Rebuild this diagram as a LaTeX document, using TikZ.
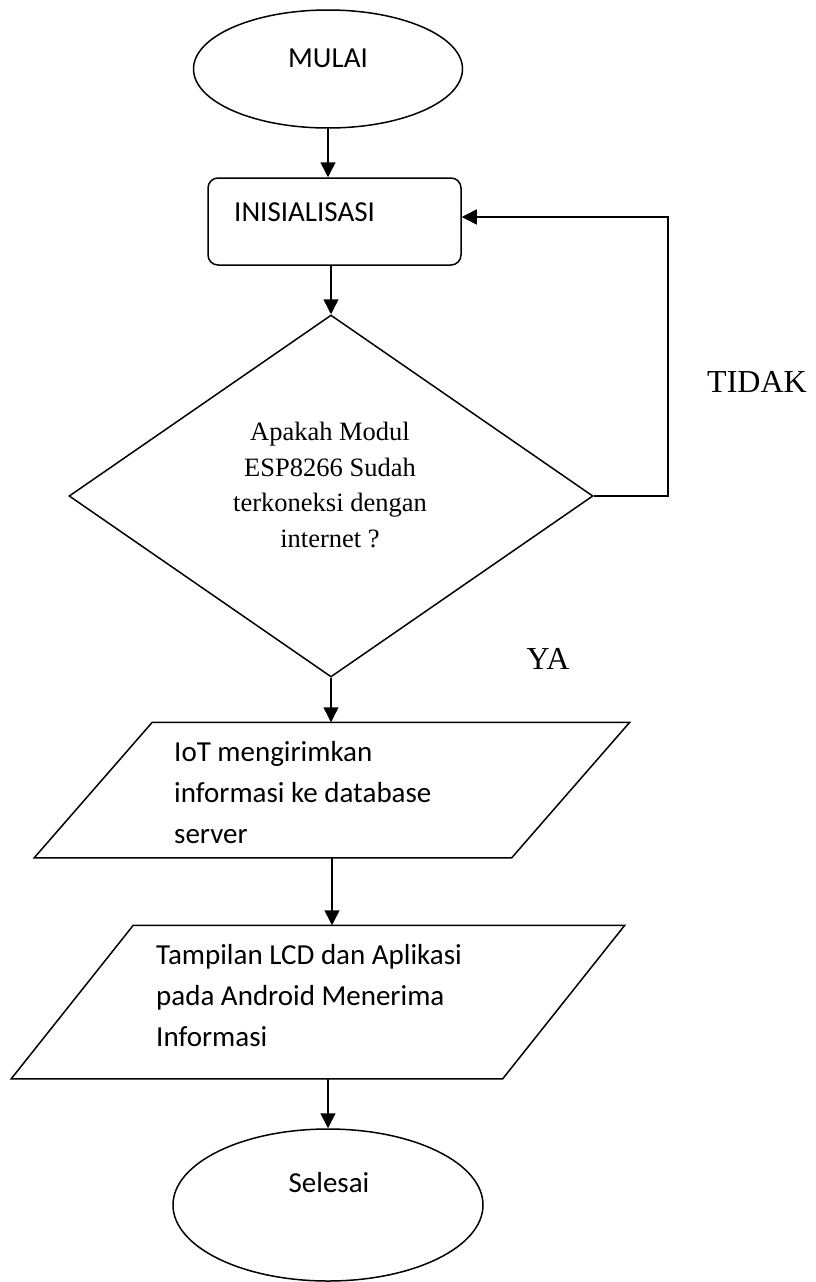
\documentclass[tikz,border=0pt]{standalone}
\usepackage{fontspec}
\newfontfamily\calibri{Carlito}
\newfontfamily\tnr{Liberation Serif}
\usetikzlibrary{arrows.meta,shapes.geometric,calc}

\begin{document}
\begin{tikzpicture}[x=1pt,y=-1pt,
    garis/.style={line width=1.5pt},
    terminal/.style={draw, garis, ellipse, inner sep=0pt},
    proses/.style={draw, garis, rectangle, rounded corners=10pt, inner sep=0pt},
    putusan/.style={draw, garis, diamond, inner sep=0pt},
    masukan/.style={rectangle, inner sep=0pt, outer sep=0.75pt},
    tulis/.style={font=\calibri\fontsize{29}{41}\selectfont, inner sep=0pt, align=left},
    tulisb/.style={font=\tnr\fontsize{26.5}{35.5}\selectfont, inner sep=0pt, align=center},
    ket/.style={font=\tnr\fontsize{32}{38}\selectfont, inner sep=0pt},
    panah/.style={garis, -{Triangle[length=15pt,width=15pt]}}]
    \useasboundingbox (0,0) rectangle (816,1282);

    \node [terminal, minimum width=269pt, minimum height=118pt] (mulai) at (328,69) {};
    \node [proses, minimum width=253pt, minimum height=87pt] (init) at (334.5,221.5) {};
    \node [putusan, minimum width=524pt, minimum height=362pt] (cek) at (331,496) {};
    \node [masukan, minimum width=476pt, minimum height=134pt] (kirim) at (332,790) {};
    \node [masukan, minimum width=490pt, minimum height=152pt] (tampil) at (318,1002) {};
    \node [terminal, minimum width=310pt, minimum height=152pt] (selesai) at (328,1205) {};

    % jajaran genjang
    \draw [garis] ($(kirim.north west)+(59,0)$) -- ($(kirim.north east)+(59,0)$)
        -- ($(kirim.south east)+(-59,0)$) -- ($(kirim.south west)+(-59,0)$) -- cycle;
    \draw [garis] ($(tampil.north west)+(61,0)$) -- ($(tampil.north east)+(61,0)$)
        -- ($(tampil.south east)+(-61,0)$) -- ($(tampil.south west)+(-61,0)$) -- cycle;

    % teks
    \node [tulis] (mulai-t) at (328,58) {MULAI};
    \node [tulis, anchor=west] (init-t) at (234,212) {INISIALISASI};
    \node [tulisb] (cek-t) at (330,485) {Apakah Modul\\ESP8266 Sudah\\terkoneksi dengan\\internet ?};
    \node [tulis, anchor=west] (kirim-t) at (174,793) {IoT mengirimkan\\informasi ke database\\server};
    \node [tulis, anchor=west] (tampil-t) at (156,996) {Tampilan LCD dan Aplikasi\\pada Android Menerima\\Informasi};
    \node [tulis] (selesai-t) at (329,1183) {Selesai};
    \node [ket] (tidak) at (757,382) {TIDAK};
    \node [ket] (ya) at (548,659) {YA};

    \draw [panah] (mulai.south) -- (mulai.south |- init.north);
    \draw [panah] (cek.north |- init.south) -- (cek.north);
    \draw [panah] (cek.south) -- (cek.south |- kirim.north);
    \draw [panah] (kirim.south) -- (kirim.south |- tampil.north);
    \draw [panah] (selesai.north |- tampil.south) -- (selesai.north);
    \coordinate (balik) at (668,217);
    \draw [panah] (cek.east) -| (balik) -- ([yshift=4.5pt]init.east);
\end{tikzpicture}
\end{document}
